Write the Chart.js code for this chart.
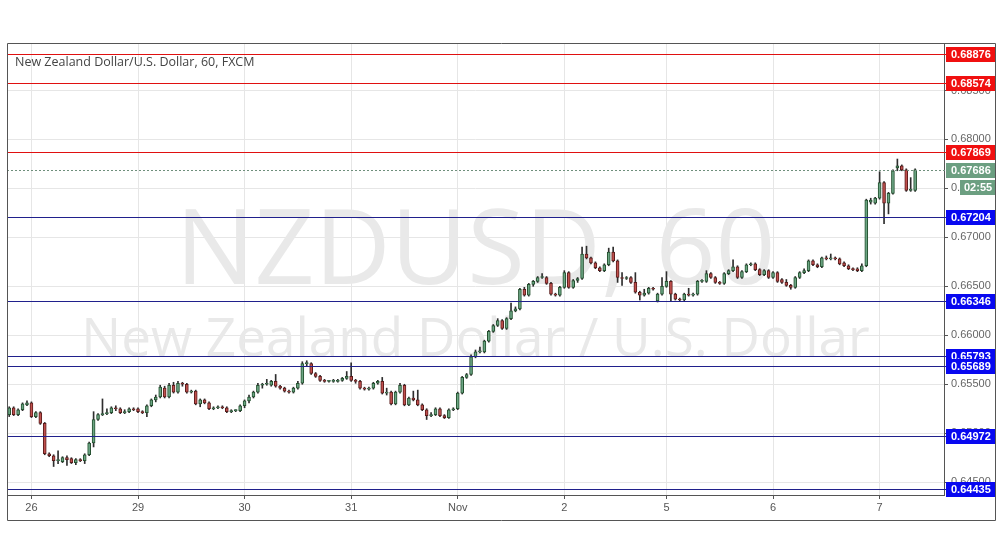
<!DOCTYPE html>
<html>
<head>
<meta charset="utf-8">
<title>NZDUSD 60</title>
<script src="https://cdn.jsdelivr.net/npm/chart.js@4.4.0/dist/chart.umd.min.js"></script>
<style>
  html, body { margin: 0; padding: 0; background: #fff; }
  #wrap { width: 1002px; height: 557px; position: relative; }
</style>
</head>
<body>
<div id="wrap"><canvas id="chart"></canvas></div>
<script>
// hourly candles, 26 Oct - 7 Nov
const dayLabels = ["26", "29", "30", "31", "Nov", "2", "5", "6", "7"];
const dayIndex = [5, 29, 53, 77, 101, 125, 148, 172, 196];
const slotCount = 211;

const opens = [
  0.6519,0.6526,0.6519,0.6524,0.6529,0.6531,0.6517,0.6521,0.6510,0.6479,
  0.6477,0.6472,0.6471,0.6475,0.6474,0.6470,0.6473,0.6472,0.6478,0.6490,
  0.6514,0.6519,0.6520,0.6521,0.6526,0.6525,0.6521,0.6522,0.6525,0.6525,
  0.6522,0.6521,0.6528,0.6534,0.6537,0.6546,0.6537,0.6549,0.6542,0.6551,
  0.6550,0.6542,0.6543,0.6530,0.6534,0.6531,0.6525,0.6526,0.6527,0.6526,
  0.6522,0.6523,0.6523,0.6528,0.6533,0.6537,0.6542,0.6549,0.6550,0.6549,
  0.6553,0.6548,0.6546,0.6543,0.6542,0.6546,0.6551,0.6571,0.6571,0.6561,
  0.6558,0.6554,0.6553,0.6553,0.6553,0.6554,0.6556,0.6558,0.6554,0.6553,
  0.6546,0.6545,0.6546,0.6551,0.6553,0.6541,0.6542,0.6530,0.6542,0.6549,
  0.6529,0.6536,0.6534,0.6529,0.6524,0.6518,0.6519,0.6525,0.6518,0.6516,
  0.6524,0.6525,0.6541,0.6557,0.6560,0.6578,0.6583,0.6583,0.6594,0.6604,
  0.6610,0.6615,0.6607,0.6617,0.6625,0.6627,0.6647,0.6641,0.6652,0.6655,
  0.6659,0.6659,0.6653,0.6642,0.6641,0.6649,0.6664,0.6649,0.6656,0.6658,
  0.6683,0.6679,0.6674,0.6669,0.6666,0.6672,0.6685,0.6676,0.6659,0.6658,
  0.6659,0.6654,0.6644,0.6641,0.6643,0.6648,0.6635,0.6642,0.6650,0.6655,
  0.6642,0.6637,0.6636,0.6642,0.6641,0.6642,0.6655,0.6655,0.6663,0.6659,
  0.6654,0.6653,0.6663,0.6666,0.6670,0.6659,0.6665,0.6672,0.6673,0.6667,
  0.6662,0.6666,0.6659,0.6664,0.6657,0.6654,0.6651,0.6649,0.6659,0.6664,
  0.6666,0.6676,0.6672,0.6670,0.6679,0.6678,0.6679,0.6678,0.6674,0.6671,
  0.6668,0.6668,0.6666,0.6671,0.6736,0.6735,0.6740,0.6756,0.6735,0.6745,
  0.6771,0.6773,0.6769,0.6748,0.6748
];
const highs = [
  0.6527,0.6527,0.6525,0.6531,0.6533,0.6532,0.6522,0.6522,0.6511,0.6480,
  0.6478,0.6482,0.6476,0.6477,0.6475,0.6474,0.6474,0.6479,0.6491,0.6522,
  0.6520,0.6535,0.6525,0.6527,0.6528,0.6526,0.6524,0.6526,0.6526,0.6526,
  0.6523,0.6529,0.6535,0.6539,0.6549,0.6548,0.6551,0.6552,0.6553,0.6552,
  0.6551,0.6544,0.6544,0.6535,0.6535,0.6532,0.6527,0.6528,0.6528,0.6527,
  0.6524,0.6524,0.6529,0.6534,0.6539,0.6543,0.6551,0.6551,0.6555,0.6554,
  0.6560,0.6549,0.6547,0.6544,0.6547,0.6553,0.6573,0.6574,0.6572,0.6562,
  0.6559,0.6555,0.6554,0.6555,0.6555,0.6557,0.6563,0.6572,0.6555,0.6554,
  0.6547,0.6547,0.6552,0.6554,0.6557,0.6546,0.6543,0.6543,0.6551,0.6550,
  0.6537,0.6543,0.6544,0.6530,0.6525,0.6521,0.6526,0.6526,0.6519,0.6525,
  0.6526,0.6542,0.6558,0.6561,0.6580,0.6585,0.6588,0.6595,0.6605,0.6611,
  0.6617,0.6616,0.6618,0.6633,0.6629,0.6648,0.6649,0.6653,0.6656,0.6660,
  0.6663,0.6660,0.6654,0.6643,0.6650,0.6666,0.6665,0.6657,0.6659,0.6690,
  0.6691,0.6680,0.6675,0.6670,0.6673,0.6689,0.6690,0.6677,0.6664,0.6660,
  0.6660,0.6664,0.6645,0.6647,0.6649,0.6649,0.6643,0.6659,0.6665,0.6656,
  0.6643,0.6638,0.6643,0.6648,0.6643,0.6656,0.6657,0.6666,0.6664,0.6660,
  0.6655,0.6664,0.6667,0.6677,0.6671,0.6666,0.6673,0.6674,0.6674,0.6668,
  0.6667,0.6667,0.6665,0.6665,0.6658,0.6657,0.6652,0.6660,0.6665,0.6668,
  0.6677,0.6677,0.6673,0.6680,0.6681,0.6683,0.6680,0.6679,0.6675,0.6672,
  0.6669,0.6669,0.6673,0.6739,0.6740,0.6741,0.6767,0.6757,0.6746,0.6769,
  0.6780,0.6774,0.6770,0.6761,0.6770
];
const lows = [
  0.6517,0.6518,0.6518,0.6523,0.6528,0.6516,0.6516,0.6509,0.6478,0.6476,
  0.6466,0.6469,0.6470,0.6467,0.6469,0.6468,0.6471,0.6469,0.6477,0.6486,
  0.6513,0.6518,0.6519,0.6520,0.6523,0.6520,0.6520,0.6521,0.6523,0.6521,
  0.6520,0.6517,0.6527,0.6532,0.6536,0.6536,0.6536,0.6541,0.6541,0.6548,
  0.6541,0.6541,0.6529,0.6527,0.6530,0.6524,0.6524,0.6525,0.6525,0.6521,
  0.6521,0.6522,0.6522,0.6526,0.6531,0.6536,0.6541,0.6546,0.6549,0.6548,
  0.6547,0.6545,0.6542,0.6541,0.6541,0.6545,0.6550,0.6569,0.6560,0.6557,
  0.6553,0.6552,0.6552,0.6552,0.6552,0.6553,0.6555,0.6553,0.6551,0.6545,
  0.6544,0.6544,0.6545,0.6550,0.6540,0.6539,0.6529,0.6529,0.6541,0.6528,
  0.6528,0.6533,0.6528,0.6523,0.6514,0.6517,0.6518,0.6517,0.6515,0.6515,
  0.6523,0.6524,0.6540,0.6556,0.6559,0.6577,0.6582,0.6582,0.6593,0.6603,
  0.6609,0.6606,0.6606,0.6616,0.6624,0.6626,0.6640,0.6640,0.6650,0.6654,
  0.6658,0.6652,0.6641,0.6640,0.6640,0.6648,0.6648,0.6648,0.6654,0.6657,
  0.6678,0.6673,0.6668,0.6665,0.6665,0.6671,0.6675,0.6654,0.6651,0.6657,
  0.6653,0.6643,0.6636,0.6640,0.6642,0.6646,0.6634,0.6641,0.6649,0.6635,
  0.6636,0.6635,0.6635,0.6640,0.6640,0.6641,0.6654,0.6654,0.6658,0.6653,
  0.6652,0.6652,0.6662,0.6665,0.6658,0.6658,0.6664,0.6671,0.6666,0.6661,
  0.6661,0.6658,0.6658,0.6654,0.6653,0.6650,0.6647,0.6648,0.6658,0.6663,
  0.6665,0.6671,0.6669,0.6669,0.6677,0.6677,0.6677,0.6672,0.6670,0.6667,
  0.6666,0.6665,0.6665,0.6670,0.6734,0.6734,0.6739,0.6714,0.6724,0.6744,
  0.6768,0.6768,0.6747,0.6747,0.6747
];
const closes = [
  0.6526,0.6519,0.6524,0.6530,0.6531,0.6517,0.6521,0.6510,0.6479,0.6477,
  0.6472,0.6473,0.6475,0.6473,0.6470,0.6473,0.6472,0.6478,0.6490,0.6514,
  0.6519,0.6520,0.6521,0.6526,0.6525,0.6521,0.6522,0.6525,0.6524,0.6522,
  0.6521,0.6528,0.6534,0.6537,0.6547,0.6537,0.6549,0.6542,0.6551,0.6550,
  0.6542,0.6543,0.6530,0.6534,0.6531,0.6525,0.6526,0.6527,0.6526,0.6522,
  0.6523,0.6523,0.6528,0.6533,0.6537,0.6542,0.6549,0.6550,0.6550,0.6553,
  0.6548,0.6546,0.6543,0.6542,0.6546,0.6551,0.6571,0.6572,0.6561,0.6558,
  0.6554,0.6553,0.6553,0.6553,0.6554,0.6556,0.6558,0.6554,0.6553,0.6546,
  0.6545,0.6546,0.6551,0.6553,0.6541,0.6542,0.6530,0.6542,0.6549,0.6529,
  0.6536,0.6534,0.6529,0.6524,0.6518,0.6519,0.6525,0.6518,0.6516,0.6524,
  0.6525,0.6541,0.6557,0.6560,0.6578,0.6583,0.6584,0.6594,0.6604,0.6610,
  0.6615,0.6607,0.6617,0.6625,0.6627,0.6647,0.6641,0.6652,0.6655,0.6659,
  0.6659,0.6653,0.6642,0.6641,0.6649,0.6664,0.6649,0.6656,0.6658,0.6683,
  0.6679,0.6674,0.6669,0.6666,0.6672,0.6685,0.6676,0.6659,0.6658,0.6659,
  0.6654,0.6644,0.6641,0.6643,0.6648,0.6647,0.6642,0.6650,0.6655,0.6642,
  0.6637,0.6636,0.6642,0.6641,0.6642,0.6655,0.6656,0.6663,0.6659,0.6654,
  0.6653,0.6663,0.6666,0.6670,0.6659,0.6665,0.6672,0.6673,0.6667,0.6662,
  0.6666,0.6659,0.6664,0.6655,0.6654,0.6651,0.6649,0.6659,0.6664,0.6666,
  0.6676,0.6672,0.6670,0.6679,0.6678,0.6679,0.6678,0.6673,0.6671,0.6668,
  0.6667,0.6666,0.6671,0.6738,0.6738,0.6740,0.6756,0.6735,0.6745,0.6768,
  0.6773,0.6769,0.6748,0.6749,0.6769
];

const priceTicks = [0.645, 0.650, 0.655, 0.660, 0.665, 0.670, 0.675, 0.680, 0.685];
const resistLevels = [0.68876, 0.68574, 0.67869];
const supportLevels = [0.67204, 0.66346, 0.65793, 0.65689, 0.64972, 0.64435];
const lastPrice = 0.67686;
const countdown = "02:55";

const titleText = "New Zealand Dollar/U.S. Dollar, 60, FXCM";
const watermark1 = "NZDUSD, 60";
const watermark2 = "New Zealand Dollar / U.S. Dollar";

const UP = "#6ba583", UP_EDGE = "#24502f";
const DOWN = "#c0504d", DOWN_EDGE = "#5a1c1c";
const FRAME = "#555";
const FONT = "'Liberation Sans', Arial, sans-serif";

const labels = Array.from({ length: slotCount }, (_, i) => {
    const k = dayIndex.indexOf(i);
    return k >= 0 ? dayLabels[k] : "";
});
const wickData = lows.map((l, i) => [l, highs[i]]);
const bodyData = opens.map((o, i) => [o, closes[i]]);
const isUp = (i) => closes[i] >= opens[i];

function fitFont(ctx, text, width, family) {
    ctx.font = "100px " + family;
    const w = ctx.measureText(text).width;
    return Math.round(100 * width / w);
}

const overlay = {
    id: "overlay",
    beforeDatasetsDraw(chart) {
        const { ctx, chartArea: a } = chart;
        const cx = (a.left + a.right) / 2;
        ctx.save();
        ctx.fillStyle = "#e9e9e9";
        ctx.textAlign = "center";
        ctx.textBaseline = "alphabetic";
        let s = fitFont(ctx, watermark1, 603, "'Open Sans', sans-serif");
        ctx.font = s + "px 'Open Sans', sans-serif";
        ctx.fillText(watermark1, cx, 284);
        s = fitFont(ctx, watermark2, 785, "'Open Sans', sans-serif");
        ctx.font = s + "px 'Open Sans', sans-serif";
        ctx.fillText(watermark2, cx, 356);
        ctx.restore();
    },
    afterDatasetsDraw(chart) {
        const { ctx, chartArea: a, scales: { y } } = chart;
        ctx.save();
        ctx.lineWidth = 1;
        const hline = (v, color, dash) => {
            const py = Math.round(y.getPixelForValue(v)) + 0.5;
            ctx.strokeStyle = color;
            ctx.setLineDash(dash || []);
            ctx.beginPath();
            ctx.moveTo(a.left, py);
            ctx.lineTo(a.right + 3, py);
            ctx.stroke();
        };
        hline(lastPrice, "#6f8f7c", [2, 2]);
        resistLevels.forEach(v => hline(v, "#e01010"));
        supportLevels.forEach(v => hline(v, "#20208c"));
        ctx.restore();
    },
    afterDraw(chart) {
        const { ctx, chartArea: a, scales: { y } } = chart;
        ctx.save();
        // frame
        ctx.strokeStyle = FRAME;
        ctx.lineWidth = 1;
        ctx.beginPath();
        ctx.moveTo(a.left + 0.5, 520.5);
        ctx.lineTo(a.left + 0.5, a.top + 0.5);
        ctx.lineTo(995.5, a.top + 0.5);
        ctx.lineTo(995.5, 520.5);
        ctx.lineTo(a.left + 0.5, 520.5);
        ctx.stroke();

        // price boxes on the axis
        const box = (v, bg, text) => {
            const py = y.getPixelForValue(v);
            ctx.fillStyle = bg;
            ctx.fillRect(946, Math.round(py) - 7, 49, 15);
            ctx.fillStyle = "#fff";
            ctx.font = "bold 11px " + FONT;
            ctx.textAlign = "left";
            ctx.textBaseline = "middle";
            ctx.fillText(text, 951, Math.round(py) + 1);
        };
        resistLevels.forEach(v => box(v, "#f01010", v.toFixed(5)));
        supportLevels.forEach(v => box(v, "#0808f0", v.toFixed(5)));
        box(lastPrice, "#6c9f81", lastPrice.toFixed(5));
        const py = Math.round(y.getPixelForValue(lastPrice));
        ctx.fillStyle = "#6c9f81";
        ctx.fillRect(960, py + 10, 35, 15);
        ctx.fillStyle = "#fff";
        ctx.fillText(countdown, 964, py + 18);

        // title
        ctx.fillStyle = "#444";
        ctx.font = "12.5px 'Open Sans', sans-serif";
        ctx.textBaseline = "alphabetic";
        ctx.fillText(titleText, 15, 66);
        ctx.restore();
    }
};

new Chart(document.getElementById("chart"), {
    type: "bar",
    data: {
        labels: labels,
        datasets: [
            {
                data: bodyData,
                backgroundColor: (c) => isUp(c.dataIndex) ? UP : DOWN,
                borderColor: (c) => isUp(c.dataIndex) ? UP_EDGE : DOWN_EDGE,
                borderWidth: 1,
                borderSkipped: false,
                barThickness: 3,
                minBarLength: 1,
                grouped: false,
                order: 0
            },
            {
                data: wickData,
                backgroundColor: "#2e2e2e",
                borderWidth: 0,
                barThickness: 1,
                grouped: false,
                order: 1
            }
        ]
    },
    options: {
        responsive: true,
        maintainAspectRatio: false,
        animation: false,
        layout: { padding: { left: 7, top: 43, right: 7, bottom: 37 } },
        plugins: { legend: { display: false }, tooltip: { enabled: false } },
        scales: {
            x: {
                offset: true,
                afterFit: (s) => { s.height = 25; },
                grid: { offset: false, color: "#e6e6e6", tickLength: 4, tickColor: FRAME },
                border: { color: FRAME },
                ticks: {
                    autoSkip: false,
                    maxRotation: 0,
                    minRotation: 0,
                    padding: 2,
                    color: "#555",
                    font: { family: FONT, size: 11 },
                    callback: (v, i) => labels[i] === "" ? null : labels[i]
                }
            },
            y: {
                position: "right",
                min: 0.64369,
                max: 0.68985,
                afterFit: (s) => { s.width = 51; },
                afterBuildTicks: (s) => { s.ticks = priceTicks.map(v => ({ value: v })); },
                grid: { color: "#e6e6e6", tickLength: 4, tickColor: FRAME },
                border: { color: FRAME },
                ticks: {
                    padding: 3,
                    color: "#666",
                    font: { family: FONT, size: 11 },
                    callback: (v) => Number(v).toFixed(5)
                }
            }
        }
    },
    plugins: [overlay]
});
</script>
</body>
</html>
